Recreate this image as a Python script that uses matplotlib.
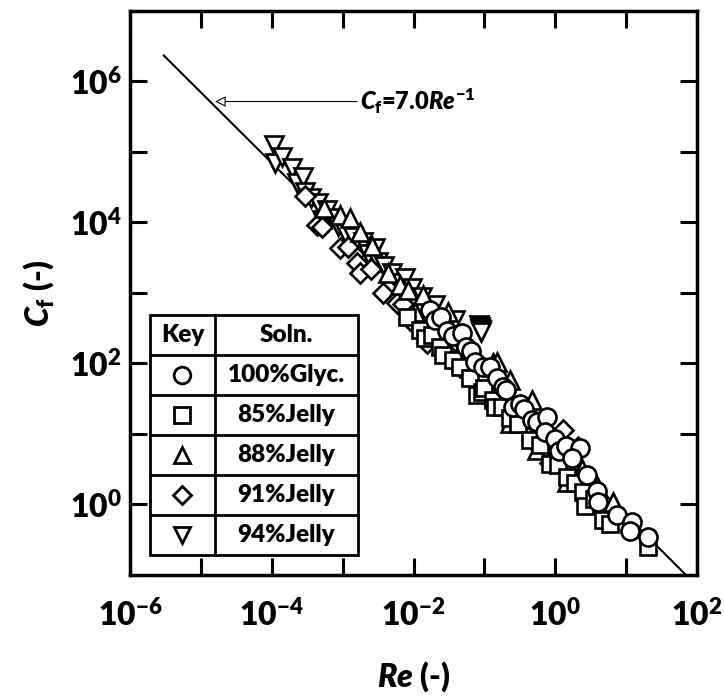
import numpy as np
import matplotlib
matplotlib.use("Agg")
import matplotlib.pyplot as plt
from matplotlib.patches import Rectangle

plt.rcParams['font.family'] = ['Lato', 'DejaVu Sans']
plt.rcParams['font.weight'] = 800
plt.rcParams['axes.labelweight'] = 800
plt.rcParams['mathtext.fontset'] = 'custom'
plt.rcParams['mathtext.rm'] = 'Lato:extrabold'
plt.rcParams['mathtext.bf'] = 'Lato:extrabold'
plt.rcParams['mathtext.it'] = 'Lato:italic:extrabold'

# =============================================================================
# Data
# =============================================================================

# 100% glycerol (circles)
re_100 = [1.70e-2, 2.0e-2, 2.43e-2, 3.0e-2, 3.6e-2, 4.8e-2, 5.5e-2, 6.5e-2, 7.3e-2,
          9.5e-2, 0.119, 0.15, 0.182, 0.2, 0.252, 0.32, 0.361, 0.468, 0.55, 0.76,
          0.71, 1.0, 1.12, 1.4, 2.22, 1.71, 2.79, 3.86, 3.99, 7.4, 12.0, 11.3, 20.2]
cf_100 = [575, 420, 458, 290, 247, 272, 172, 150, 106, 90, 90, 62, 47, 42, 24.4,
          27, 22.9, 16.0, 15, 17.6, 10.5, 8.5, 5.8, 6.8, 6.4, 4.5, 2.58, 1.53,
          1.10, 0.72, 0.56, 0.415, 0.34]

# 85% jelly (squares)
re_85 = [8.1e-3, 1.23e-2, 1.45e-2, 1.8e-2, 2.36e-2, 2.6e-2, 3.6e-2, 4.5e-2, 6.2e-2,
         7.8e-2, 9.2e-2, 0.1, 0.132, 0.141, 0.18, 0.229, 0.3, 0.439, 0.6, 0.84,
         1.1, 1.46, 1.9, 2.45, 2.61, 3.5, 4.69, 5.9, 20.2]
cf_85 = [458, 300, 231, 250, 172, 133, 113, 90, 63, 36, 40, 45, 30.6, 24.4, 24,
         17.0, 14, 8.3, 7, 3.7, 3.6, 2.49, 2.0, 1.48, 0.94, 1.2, 0.61, 0.52, 0.247]

# 88% jelly (up triangles)
re_88 = [5.5e-4, 9.2e-4, 1.27e-3, 1.75e-3, 2.59e-3, 4.3e-3, 6.5e-3, 8.3e-3, 1.05e-2,
         1.36e-2, 2.0e-2, 3.05e-2, 5.0e-2, 8.0e-2, 0.132, 0.150, 0.229, 0.229,
         0.33, 0.468, 0.55, 0.9, 1.46, 2.4, 3.86, 6.5]
cf_88 = [1.6e4, 1.27e4, 1.15e4, 7.3e3, 4.6e3, 1.9e3, 1.3e3, 1.10e3, 538, 938, 450,
         538, 180, 95, 102, 106, 59, 14.5, 24, 30.6, 6.0, 8.5, 2.05, 3.2, 1.80,
         1.07]

# 91% jelly (diamonds)
re_91 = [2.94e-4, 4.34e-4, 5.1e-4, 9.2e-4, 1.2e-3, 1.59e-3, 1.75e-3, 2.5e-3, 3.7e-3,
         5.8e-3, 7.0e-3, 8.9e-3, 1.2e-2, 1.55e-2, 2.35e-2, 2.96e-2, 4.5e-2, 6.5e-2,
         9.5e-2, 0.132, 0.2, 0.3, 0.468, 0.6, 0.84, 1.28, 2.08]
cf_91 = [2.36e4, 9.2e3, 8.6e3, 4.3e3, 4.5e3, 2.66e3, 1.92e3, 2.2e3, 1.0e3, 723, 700,
         415, 420, 196, 300, 142, 90, 80, 38, 28.7, 24, 17, 8.3, 10, 3.9, 11.5, 6.6]

# 94% jelly (down triangles)
re_94 = [1.07e-4, 1.11e-4, 1.39e-4, 1.93e-4, 2.3e-4, 2.75e-4, 2.94e-4, 3.6e-4,
         4.5e-4, 5.1e-4, 6.0e-4, 7.1e-4, 8.5e-4, 1.08e-3, 1.4e-3, 1.93e-3, 2.3e-3,
         2.86e-3, 3.15e-3, 3.8e-3, 4.96e-3, 6.0e-3, 7.6e-3, 9.5e-3, 1.31e-2,
         2.0e-2, 3.8e-2, 0.085, 0.087, 0.088, 0.089, 0.090]
cf_94 = [1.24e5, 6.9e4, 8.4e4, 5.9e4, 3.6e4, 4.4e4, 2.7e4, 2.2e4, 1.9e4, 1.08e4,
         1.5e4, 1.15e4, 8.8e3, 7.1e3, 6.3e3, 5.3e3, 3.6e3, 4.3e3, 2.75e3, 2.4e3,
         1.92e3, 1.4e3, 1.63e3, 1.18e3, 880, 676, 415, 350, 330, 310, 295, 280]

# correlation Cf = 7.0 / Re
fit_coef = 7.0
fit_re = [3e-6, 70]

series = [
    (re_94, cf_94, "v", "94%Jelly"),
    (re_91, cf_91, "D", "91%Jelly"),
    (re_88, cf_88, "^", "88%Jelly"),
    (re_85, cf_85, "s", "85%Jelly"),
    (re_100, cf_100, "o", "100%Glyc."),
]
msize = {"o": 13, "s": 12, "^": 13, "D": 10, "v": 13}

# =============================================================================
# Plot
# =============================================================================

fig = plt.figure(figsize=(7.24, 6.96), dpi=100)
ax = fig.add_axes([0.1796, 0.1739, 0.7831, 0.8103])

re_line = np.array(fit_re)
ax.plot(re_line, fit_coef / re_line, color="black", lw=1.5, zorder=1)

for re, cf, mk, lab in series:
    ax.plot(re, cf, ls="none", marker=mk, ms=msize[mk], mfc="white",
            mec="black", mew=1.9, zorder=2)

ax.set_xscale("log")
ax.set_yscale("log")
ax.set_xlim(1e-6, 1e2)
ax.set_ylim(1e-1, 1e7)

xt = [10.0 ** k for k in range(-6, 3)]
ax.set_xticks(xt)
ax.set_xticklabels(["$10^{%d}$" % k if k % 2 == 0 else "" for k in range(-6, 3)])
yt = [10.0 ** k for k in range(-1, 8)]
ax.set_yticks(yt)
ax.set_yticklabels(["$10^{%d}$" % k if k % 2 == 0 else "" for k in range(-1, 8)])
ax.minorticks_off()
ax.tick_params(which="major", direction="in", length=12, width=2.2,
               top=True, right=True, labelsize=23)
ax.tick_params(axis="x", pad=17)
ax.tick_params(axis="y", pad=6)
for sp in ax.spines.values():
    sp.set_linewidth(2.5)

ax.set_xlabel("$Re$ (-)", fontsize=23, fontweight=800, labelpad=20)
ax.set_ylabel("$C_{\\mathrm{f}}$ (-)", fontsize=23, fontweight=800, labelpad=10)

ax.annotate("$C_{\\mathrm{f}}$=7.0$Re^{-1}$", xy=(1.58e-5, 5.2e5),
            xytext=(1.75e-3, 5.2e5), fontsize=17, fontweight=800, va="center",
            arrowprops=dict(arrowstyle="-|>", fc="white", ec="black", lw=0.8,
                            mutation_scale=16, shrinkA=0, shrinkB=0))

# key table
tx0, tx1, tcol = 0.035, 0.402, 0.150
ty0, rowh = 0.0355, 0.0709
nrow = 6
ax.add_patch(Rectangle((tx0, ty0), tx1 - tx0, rowh * nrow, transform=ax.transAxes,
                       fc="white", ec="black", lw=2, zorder=5))
for i in range(1, nrow):
    ax.plot([tx0, tx1], [ty0 + i * rowh] * 2, color="black", lw=2,
            transform=ax.transAxes, zorder=6)
ax.plot([tcol, tcol], [ty0, ty0 + rowh * nrow], color="black", lw=2,
        transform=ax.transAxes, zorder=6)

xc_key = (tx0 + tcol) / 2
xc_sol = (tcol + tx1) / 2
ytop = ty0 + (nrow - 0.5) * rowh
ax.text(xc_key, ytop, "Key", transform=ax.transAxes, ha="center", va="center",
        fontsize=17.5, fontweight=800, zorder=7)
ax.text(xc_sol, ytop, "Soln.", transform=ax.transAxes, ha="center", va="center",
        fontsize=17.5, fontweight=800, zorder=7)
for j, (re, cf, mk, lab) in enumerate(series[::-1]):
    yc = ty0 + (nrow - 1.5 - j) * rowh
    ax.plot([xc_key], [yc], marker=mk, ms=msize[mk] * 0.92, mfc="white",
            mec="black", mew=2.0, transform=ax.transAxes, zorder=7)
    ax.text(xc_sol, yc, lab, transform=ax.transAxes, ha="center", va="center",
            fontsize=17.5, fontweight=800, zorder=7)

fig.savefig("out.png", dpi=100)
